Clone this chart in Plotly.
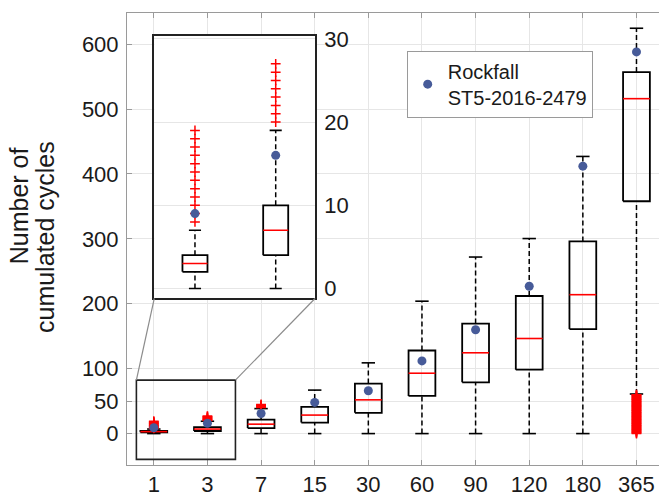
import plotly.graph_objects as go

# ---------------- data ----------------
categories = ["1", "3", "7", "15", "30", "60", "90", "120", "180", "365"]
whisker_low = [0, 0, 0, 0, 0, 0, 0, 0, 0, 61]
q1 = [2, 4, 8.5, 17, 32, 58, 79, 98.5, 161, 358]
median = [3, 7, 14.5, 28.5, 52, 93, 124.5, 146.5, 214, 516]
q3 = [4, 10, 21.5, 41, 77, 128, 169.5, 212, 296, 557]
whisker_high = [7, 19, 38.5, 67, 109, 204, 272, 300.5, 427, 624.5]
rockfall = [9, 16, 31, 48, 66, 112, 160, 227, 412, 588]
outliers = {
    "1": [8, 9, 10, 11, 12, 13, 14, 15, 16, 17, 18, 19],
    "3": [20, 21, 22, 23, 24, 25, 26, 27],
    "7": [40, 41, 42, 43, 44, 45],
    "365": [0, 1, 2, 3, 4, 5, 6, 7, 8, 9, 10, 11, 12, 13, 14, 15, 16, 17, 18, 19,
            20, 21, 22, 23, 24, 25, 26, 27, 28, 29, 30, 31, 32, 33, 34, 35, 36, 37,
            38, 39, 40, 41, 42, 43, 44, 45, 46, 47, 48, 49, 50, 51, 52, 53, 54, 55,
            56, 57, 58, 59, 60],
}
y_ticks = [0, 50, 100, 200, 300, 400, 500, 600]
inset_categories = ["1", "3"]
inset_y_ticks = [0, 10, 20, 30]
legend_label = "Rockfall<br>ST5-2016-2479"

# ---------------- style / layout ----------------
FONT = "Liberation Sans, Arial, sans-serif"
MAIN_XR = [0.5, 10.42]
MAIN_YR = [-48.4, 648]
INSET_XR = [0.496, 2.487]
INSET_YR = [-1.2, 30.4]
INSET_XD = [0.0513, 0.3534]
INSET_YD = [0.3684, 0.9502]
ZOOM_X = [0.675, 2.522]
ZOOM_Y = [-39.7, 82.4]
BOX_COLOR = "#000000"
MED_COLOR = "#ff0000"
DOT_COLOR = "#475b99"
GRID = "#e6e6e6"
AX = "#9a9a9a"

fig = go.Figure()


def add_boxes(cats, positions, half_w, cap_w, xa, ya, show_legend):
    bx, by, wx, wy, cx, cy, mx, my = [], [], [], [], [], [], [], []
    ox, oy = [], []
    rx, ry = [], []
    for c, p in zip(cats, positions):
        i = categories.index(c)
        bx += [p - half_w, p + half_w, p + half_w, p - half_w, p - half_w, None]
        by += [q1[i], q1[i], q3[i], q3[i], q1[i], None]
        wx += [p, p, None, p, p, None]
        wy += [q3[i], whisker_high[i], None, whisker_low[i], q1[i], None]
        cx += [p - cap_w, p + cap_w, None, p - cap_w, p + cap_w, None]
        cy += [whisker_high[i], whisker_high[i], None, whisker_low[i], whisker_low[i], None]
        mx += [p - half_w, p + half_w, None]
        my += [median[i], median[i], None]
        for v in outliers.get(c, []):
            ox.append(p)
            oy.append(v)
        rx.append(p)
        ry.append(rockfall[i])
    common = dict(xaxis=xa, yaxis=ya, hoverinfo="skip", showlegend=False)
    fig.add_trace(go.Scatter(x=wx, y=wy, mode="lines",
                             line=dict(color=BOX_COLOR, width=1.5, dash="5px,3px"), **common))
    fig.add_trace(go.Scatter(x=cx, y=cy, mode="lines",
                             line=dict(color=BOX_COLOR, width=1.6), **common))
    fig.add_trace(go.Scatter(x=bx, y=by, mode="lines",
                             line=dict(color=BOX_COLOR, width=1.8), **common))
    fig.add_trace(go.Scatter(x=mx, y=my, mode="lines",
                             line=dict(color=MED_COLOR, width=1.6), **common))
    fig.add_trace(go.Scatter(x=ox, y=oy, mode="markers",
                             marker=dict(symbol="cross-thin", size=7,
                                         line=dict(color=MED_COLOR, width=1.5)),
                             **common))
    fig.add_trace(go.Scatter(x=rx, y=ry, mode="markers", name=legend_label,
                             marker=dict(color=DOT_COLOR, size=9),
                             xaxis=xa, yaxis=ya, hoverinfo="skip",
                             showlegend=show_legend))


main_pos = list(range(1, len(categories) + 1))
add_boxes(categories, main_pos, 0.25, 0.125, "x", "y", True)
inset_pos = list(range(1, len(inset_categories) + 1))
add_boxes(inset_categories, inset_pos, 0.155, 0.075, "x2", "y2", False)


def inset_to_main(fx, fy):
    return (MAIN_XR[0] + fx * (MAIN_XR[1] - MAIN_XR[0]),
            MAIN_YR[0] + fy * (MAIN_YR[1] - MAIN_YR[0]))


blx, bly = inset_to_main(INSET_XD[0], INSET_YD[0])
brx, bry = inset_to_main(INSET_XD[1], INSET_YD[0])

shapes = [
    dict(type="rect", xref="x", yref="y", x0=ZOOM_X[0], x1=ZOOM_X[1],
         y0=ZOOM_Y[0], y1=ZOOM_Y[1], line=dict(color="#222222", width=1.6),
         layer="above"),
    dict(type="line", xref="x", yref="y", x0=ZOOM_X[0], y0=ZOOM_Y[1],
         x1=blx, y1=bly, line=dict(color="#8c8c8c", width=1.2), layer="above"),
    dict(type="line", xref="x", yref="y", x0=ZOOM_X[1], y0=ZOOM_Y[1],
         x1=brx, y1=bry, line=dict(color="#8c8c8c", width=1.2), layer="above"),
]

PL, PR, PT, PB = 127, 0, 13, 28
W, H = 659, 497
pw, ph = W - PL - PR, H - PT - PB


def px_to_paper(x, y):
    return (x - PL) / pw, (H - PB - y) / ph


t1x, t1y = px_to_paper(19, 208)
t2x, t2y = px_to_paper(45, 239)
annotations = [
    dict(text="Number of", x=t1x, y=t1y, xref="paper", yref="paper",
         textangle=-90, showarrow=False, xanchor="center", yanchor="middle",
         font=dict(family=FONT, size=25, color="#1a1a1a")),
    dict(text="cumulated cycles", x=t2x, y=t2y, xref="paper", yref="paper",
         textangle=-90, showarrow=False, xanchor="center", yanchor="middle",
         font=dict(family=FONT, size=25, color="#1a1a1a")),
]

lgx, lgy = px_to_paper(406.7, 51)

fig.update_layout(
    width=W, height=H,
    margin=dict(l=PL, r=PR, t=PT, b=PB, pad=0),
    paper_bgcolor="white", plot_bgcolor="white",
    font=dict(family=FONT, color="#1a1a1a"),
    showlegend=True,
    legend=dict(x=lgx, y=lgy, xanchor="left", yanchor="top",
                bgcolor="white", bordercolor="#9a9a9a", borderwidth=1,
                font=dict(family=FONT, size=20, color="#1a1a1a"),
                valign="middle", tracegroupgap=0),
    shapes=shapes,
    annotations=annotations,
    xaxis=dict(domain=[0, 1], range=MAIN_XR, tickmode="array",
               tickvals=main_pos, ticktext=categories,
               showgrid=True, gridcolor=GRID, gridwidth=1, zeroline=False,
               showline=True, linecolor=AX, linewidth=1, mirror="ticks",
               ticks="inside", ticklen=5, tickcolor=AX,
               tickfont=dict(family=FONT, size=22, color="#1a1a1a")),
    yaxis=dict(domain=[0, 1], range=MAIN_YR, tickmode="array",
               tickvals=y_ticks, ticktext=[str(v) for v in y_ticks],
               showgrid=True, gridcolor=GRID, gridwidth=1, zeroline=False,
               showline=True, linecolor=AX, linewidth=1,
               ticks="inside", ticklen=5, tickcolor=AX,
               ticklabelstandoff=3,
               tickfont=dict(family=FONT, size=22, color="#1a1a1a")),
    xaxis2=dict(domain=INSET_XD, range=INSET_XR, anchor="y2",
                showticklabels=False, ticks="", showgrid=False, zeroline=False,
                showline=True, linecolor="#222222", linewidth=1.6, mirror=True),
    yaxis2=dict(domain=INSET_YD, range=INSET_YR, anchor="x2", side="right",
                tickmode="array", tickvals=inset_y_ticks,
                ticktext=[str(v) for v in inset_y_ticks],
                ticks="", showgrid=True, gridcolor=GRID, gridwidth=1,
                zeroline=False, showline=True, linecolor="#222222",
                linewidth=1.6, mirror=True, ticklabelstandoff=3,
                tickfont=dict(family=FONT, size=22, color="#1a1a1a")),
)

fig.write_html("out.html")
